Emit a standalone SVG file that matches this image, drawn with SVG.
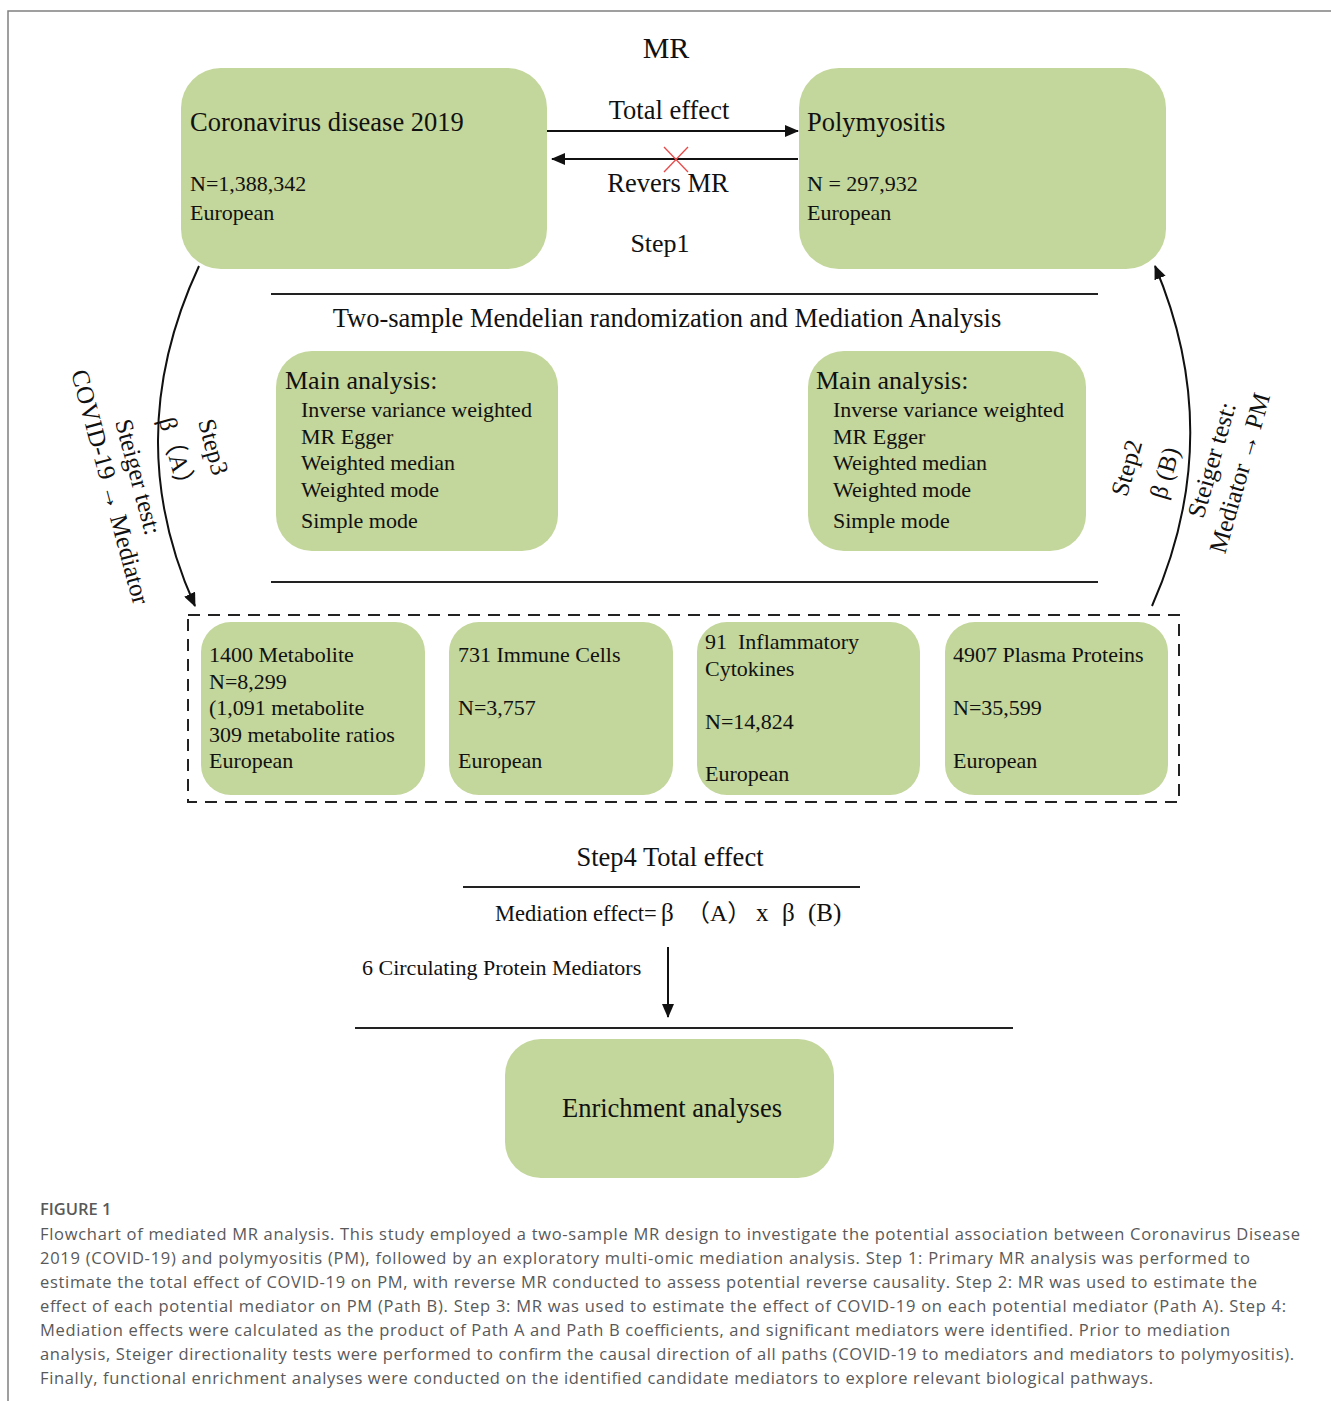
<svg xmlns="http://www.w3.org/2000/svg" width="1331" height="1401" viewBox="0 0 1331 1401">
<style>
.box{fill:#c3d69b;}
.t{font-family:"Liberation Serif","Noto Sans CJK SC",serif;fill:#111;}
.cap{font-family:"Open Sans","Liberation Sans",sans-serif;fill:#595959;font-size:16.5px;}
.rule{stroke:#222;stroke-width:2;}
.conn{stroke:#111;stroke-width:2;fill:none;}
</style>
<defs>
<marker id="ah" markerUnits="userSpaceOnUse" markerWidth="14" markerHeight="12" viewBox="0 0 14 12" refX="13" refY="6" orient="auto">
<path d="M0,0 L14,6 L0,12 z" fill="#111"/>
</marker>
</defs>
<rect width="1331" height="1401" fill="#fff"/>
<path d="M8,1401 L8,11 L1331,11" fill="none" stroke="#808080" stroke-width="1.5"/>

<text class="t" x="666" y="58" font-size="30" text-anchor="middle">MR</text>

<g id="covid">
<rect class="box" x="181" y="68" width="366" height="201" rx="40"/>
<text class="t" x="190" y="131" font-size="26.5">Coronavirus disease 2019</text>
<text class="t" x="190" y="191" font-size="22">N=1,388,342</text>
<text class="t" x="190" y="220" font-size="22">European</text>
</g>

<g id="pm">
<rect class="box" x="799" y="68" width="367" height="201" rx="40"/>
<text class="t" x="807" y="131" font-size="26.5">Polymyositis</text>
<text class="t" x="807" y="191" font-size="22">N = 297,932</text>
<text class="t" x="807" y="220" font-size="22">European</text>
</g>

<g id="step1-labels">
<text class="t" x="669" y="119" font-size="26.5" text-anchor="middle">Total effect</text>
<text class="t" x="668" y="192" font-size="26.5" text-anchor="middle">Revers MR</text>
<text class="t" x="660" y="252" font-size="26" text-anchor="middle">Step1</text>
</g>

<g id="section-mr">
<line class="rule" x1="271" y1="294" x2="1098" y2="294"/>
<text class="t" x="667" y="327" font-size="26.5" text-anchor="middle">Two-sample Mendelian randomization and Mediation Analysis</text>
<line class="rule" x1="271" y1="582" x2="1098" y2="582"/>
</g>

<g id="main-left">
<rect class="box" x="276" y="351" width="282" height="200" rx="36"/>
<text class="t" x="285" y="389" font-size="26">Main analysis:</text>
<text class="t" x="301" y="417" font-size="22">Inverse variance weighted</text>
<text class="t" x="301" y="444" font-size="22">MR Egger</text>
<text class="t" x="301" y="470" font-size="22">Weighted median</text>
<text class="t" x="301" y="497" font-size="22">Weighted mode</text>
<text class="t" x="301" y="528" font-size="22">Simple mode</text>
</g>

<g id="main-right">
<rect class="box" x="808" y="351" width="278" height="200" rx="36"/>
<text class="t" x="816" y="389" font-size="26">Main analysis:</text>
<text class="t" x="833" y="417" font-size="22">Inverse variance weighted</text>
<text class="t" x="833" y="444" font-size="22">MR Egger</text>
<text class="t" x="833" y="470" font-size="22">Weighted median</text>
<text class="t" x="833" y="497" font-size="22">Weighted mode</text>
<text class="t" x="833" y="528" font-size="22">Simple mode</text>
</g>

<g id="mediators">
<rect x="188" y="615" width="991" height="187" fill="none" stroke="#222" stroke-width="2" stroke-dasharray="12 8"/>
</g>

<g id="metabolite">
<rect class="box" x="201" y="622" width="224" height="173" rx="30"/>
<text class="t" x="209" y="662" font-size="22">1400 Metabolite</text>
<text class="t" x="209" y="689" font-size="22">N=8,299</text>
<text class="t" x="209" y="715" font-size="22">(1,091 metabolite</text>
<text class="t" x="209" y="742" font-size="22">309 metabolite ratios</text>
<text class="t" x="209" y="768" font-size="22">European</text>
</g>

<g id="immune">
<rect class="box" x="449" y="622" width="224" height="173" rx="30"/>
<text class="t" x="458" y="662" font-size="22">731 Immune Cells</text>
<text class="t" x="458" y="715" font-size="22">N=3,757</text>
<text class="t" x="458" y="768" font-size="22">European</text>
</g>

<g id="cytokines">
<rect class="box" x="697" y="622" width="223" height="173" rx="30"/>
<text class="t" x="705" y="649" font-size="22" xml:space="preserve">91  Inflammatory</text>
<text class="t" x="705" y="676" font-size="22">Cytokines</text>
<text class="t" x="705" y="729" font-size="22">N=14,824</text>
<text class="t" x="705" y="781" font-size="22">European</text>
</g>

<g id="proteins">
<rect class="box" x="945" y="622" width="223" height="173" rx="30"/>
<text class="t" x="953" y="662" font-size="22">4907 Plasma Proteins</text>
<text class="t" x="953" y="715" font-size="22">N=35,599</text>
<text class="t" x="953" y="768" font-size="22">European</text>
</g>

<g id="step3-labels">
<text class="t" font-size="25" text-anchor="middle" transform="translate(213,447) rotate(75)" y="8">Step3</text>
<text class="t" font-size="25" text-anchor="middle" transform="translate(177,457) rotate(75)" y="8">β（A）</text>
<text class="t" font-size="25" text-anchor="middle" transform="translate(138,477) rotate(75)" y="8">Steiger test:</text>
<text class="t" font-size="25" text-anchor="middle" transform="translate(110,487) rotate(75)" y="8">COVID-19 → Mediator</text>
</g>

<g id="step2-labels">
<text class="t" font-size="25" text-anchor="middle" transform="translate(1127,468) rotate(-74)" y="8">Step2</text>
<text class="t" font-size="25" text-anchor="middle" transform="translate(1165,473) rotate(-74)" y="8">β (B)</text>
<text class="t" font-size="25" text-anchor="middle" transform="translate(1212,460) rotate(-74)" y="8">Steiger test:</text>
<text class="t" font-size="25" text-anchor="middle" transform="translate(1240,473) rotate(-74)" y="8">Mediator → PM</text>
</g>

<g id="step4">
<text class="t" x="670" y="866" font-size="26.5" text-anchor="middle">Step4 Total effect</text>
<line class="rule" x1="463" y1="887" x2="860" y2="887"/>
<text class="t" x="495" y="921" font-size="22.5">Mediation effect=</text>
<text class="t" x="661" y="921" font-size="25">β</text>
<text class="t" x="686" y="921" font-size="24">（A）</text>
<text class="t" x="756" y="921" font-size="25">x</text>
<text class="t" x="782" y="921" font-size="25">β</text>
<text class="t" x="808" y="921" font-size="25">(B)</text>
<text class="t" x="362" y="975" font-size="22">6 Circulating Protein Mediators</text>
<line class="rule" x1="355" y1="1028" x2="1013" y2="1028"/>
</g>

<g id="enrichment">
<rect class="box" x="505" y="1039" width="329" height="139" rx="36"/>
<text class="t" x="672" y="1117" font-size="26.5" text-anchor="middle">Enrichment analyses</text>
</g>

<g id="connectors">
<line class="conn" x1="547" y1="131" x2="798" y2="131" marker-end="url(#ah)"/>
<line class="conn" x1="798" y1="159" x2="552" y2="159" marker-end="url(#ah)"/>
<line x1="664" y1="147" x2="688" y2="172" stroke="#e84a4a" stroke-width="1.3"/>
<line x1="688" y1="147" x2="664" y2="172" stroke="#e84a4a" stroke-width="1.3"/>
<path class="conn" d="M199,266 Q119,438 195,606" marker-end="url(#ah)"/>
<path class="conn" d="M1152,606 Q1227,436 1155,266" marker-end="url(#ah)"/>
<line class="conn" x1="668" y1="947" x2="668" y2="1017" marker-end="url(#ah)"/>
</g>

<g id="caption">
<text class="cap" x="40" y="1215" font-size="14" font-weight="600" fill="#666">FIGURE 1</text>
<text class="cap" x="40" y="1240" textLength="1260">Flowchart of mediated MR analysis. This study employed a two-sample MR design to investigate the potential association between Coronavirus Disease</text>
<text class="cap" x="40" y="1264" textLength="1210">2019 (COVID-19) and polymyositis (PM), followed by an exploratory multi-omic mediation analysis. Step 1: Primary MR analysis was performed to</text>
<text class="cap" x="40" y="1288" textLength="1217">estimate the total effect of COVID-19 on PM, with reverse MR conducted to assess potential reverse causality. Step 2: MR was used to estimate the</text>
<text class="cap" x="40" y="1312" textLength="1246">effect of each potential mediator on PM (Path B). Step 3: MR was used to estimate the effect of COVID-19 on each potential mediator (Path A). Step 4:</text>
<text class="cap" x="40" y="1336" textLength="1190">Mediation effects were calculated as the product of Path A and Path B coefficients, and significant mediators were identified. Prior to mediation</text>
<text class="cap" x="40" y="1360" textLength="1254">analysis, Steiger directionality tests were performed to confirm the causal direction of all paths (COVID-19 to mediators and mediators to polymyositis).</text>
<text class="cap" x="40" y="1384" textLength="1113">Finally, functional enrichment analyses were conducted on the identified candidate mediators to explore relevant biological pathways.</text>
</g>
</svg>
